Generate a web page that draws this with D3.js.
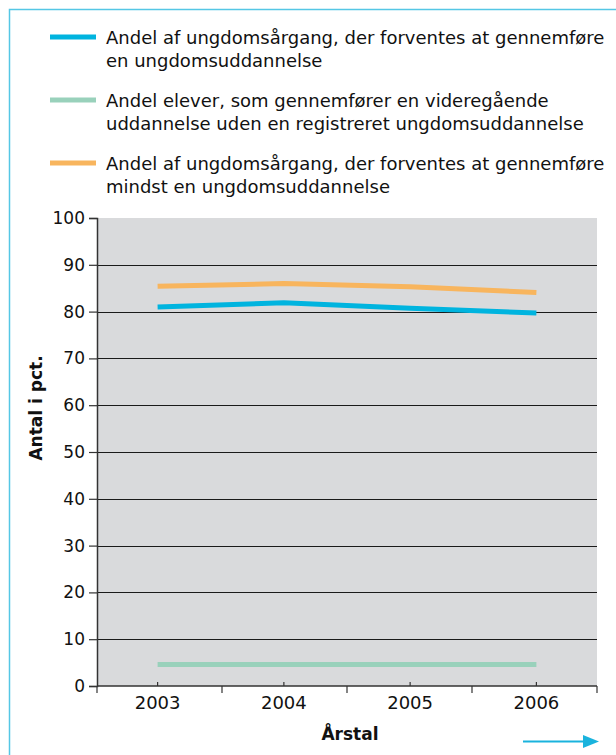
<!DOCTYPE html>
<html lang="da">
<head>
<meta charset="UTF-8">
<script src="https://cdn.jsdelivr.net/npm/d3@7"></script>
<style>
    body { margin: 0; background: white; }
    svg { display: block; font-family: "DejaVu Sans", sans-serif; }
</style>
</head>
<body>
<script>
    // ----- data -----
    const years = ["2003", "2004", "2005", "2006"];
    const blueValues = [81.0, 81.9, 80.7, 79.7];
    const greenValues = [4.6, 4.6, 4.6, 4.6];
    const orangeValues = [85.4, 86.0, 85.3, 84.1];
    const yTicks = [0, 10, 20, 30, 40, 50, 60, 70, 80, 90, 100];
    const legendLabels = [
        ["Andel af ungdomsårgang, der forventes at gennemføre", "en ungdomsuddannelse"],
        ["Andel elever, som gennemfører en videregående", "uddannelse uden en registreret ungdomsuddannelse"],
        ["Andel af ungdomsårgang, der forventes at gennemføre", "mindst en ungdomsuddannelse"]
    ];
    const colors = ["#00b4df", "#99d1bb", "#f8b55e"];

    const W = 616, H = 755;
    const plot = { left: 97, right: 597, top: 218, bottom: 686 };

    const svg = d3.select("body").append("svg")
        .attr("width", W)
        .attr("height", H);

    // frame (top + left light blue border)
    svg.append("path")
        .attr("d", `M9.5,${H} V9.5 H${W}`)
        .attr("fill", "none")
        .attr("stroke", "#55c7e5")
        .attr("stroke-width", 1.5);

    // ----- scales -----
    const xBand = d3.scaleBand().domain(years).range([plot.left, plot.right]);
    const x = d3.scalePoint().domain(years).range([plot.left, plot.right]).padding(0.48);
    const y = d3.scaleLinear().domain([0, 100]).range([plot.bottom, plot.top]);

    // plot background
    svg.append("rect")
        .attr("x", plot.left)
        .attr("y", plot.top)
        .attr("width", plot.right - plot.left)
        .attr("height", plot.bottom - plot.top)
        .attr("fill", "#d9dadc");

    // gridlines
    svg.append("g")
        .selectAll("line")
        .data(yTicks.filter(d => d > 0 && d < 100))
        .join("line")
        .attr("x1", plot.left)
        .attr("x2", plot.right)
        .attr("y1", d => Math.round(y(d)) + 0.5)
        .attr("y2", d => Math.round(y(d)) + 0.5)
        .attr("stroke", "#1a1a1a")
        .attr("stroke-width", 1);

    // y axis
    const yAxis = svg.append("g")
        .attr("transform", `translate(${plot.left},0)`)
        .call(d3.axisLeft(y).tickValues(yTicks).tickSize(8).tickPadding(4));
    yAxis.select(".domain").attr("stroke", "#333").attr("stroke-width", 1.5);
    yAxis.selectAll(".tick line").attr("stroke", "#333").attr("stroke-width", 1.2);
    yAxis.selectAll(".tick text")
        .attr("font-family", "DejaVu Sans, sans-serif")
        .attr("font-size", 17)
        .attr("fill", "#111");

    // x axis
    const xAxis = svg.append("g").attr("transform", `translate(0,${plot.bottom})`);
    xAxis.append("line")
        .attr("x1", plot.left).attr("x2", plot.right)
        .attr("stroke", "#333").attr("stroke-width", 1.5);
    const bounds = years.map(d => xBand(d)).concat([plot.right]);
    xAxis.selectAll(".bound")
        .data(bounds)
        .join("line")
        .attr("class", "bound")
        .attr("x1", d => d).attr("x2", d => d)
        .attr("y1", 0).attr("y2", 7)
        .attr("stroke", "#333").attr("stroke-width", 1.2);
    xAxis.selectAll(".mid")
        .data(years)
        .join("line")
        .attr("class", "mid")
        .attr("x1", d => x(d)).attr("x2", d => x(d))
        .attr("y1", -4).attr("y2", 0)
        .attr("stroke", "#333").attr("stroke-width", 1.2);
    xAxis.selectAll("text")
        .data(years)
        .join("text")
        .attr("x", d => x(d))
        .attr("y", 23)
        .attr("text-anchor", "middle")
        .attr("font-size", 18)
        .attr("fill", "#111")
        .text(d => d);

    // axis titles
    svg.append("text")
        .attr("x", 350)
        .attr("y", 740)
        .attr("text-anchor", "middle")
        .attr("font-size", 17)
        .attr("font-weight", "bold")
        .attr("fill", "#111")
        .text("Årstal");

    svg.append("text")
        .attr("transform", "translate(42,408) rotate(-90)")
        .attr("text-anchor", "middle")
        .attr("font-size", 17)
        .attr("font-weight", "bold")
        .attr("fill", "#111")
        .text("Antal i pct.");

    // lines
    const line = d3.line()
        .x((d, i) => x(years[i]))
        .y(d => y(d));

    [blueValues, greenValues, orangeValues].forEach((vals, i) => {
        svg.append("path")
            .attr("d", line(vals))
            .attr("fill", "none")
            .attr("stroke", colors[i])
            .attr("stroke-width", 5);
    });

    // legend
    const legendY = [37, 100, 163];
    legendLabels.forEach((lines, i) => {
        const g = svg.append("g").attr("transform", `translate(0,${legendY[i]})`);
        g.append("line")
            .attr("x1", 50).attr("x2", 96)
            .attr("stroke", colors[i])
            .attr("stroke-width", 5);
        g.selectAll("text")
            .data(lines)
            .join("text")
            .attr("x", 106)
            .attr("y", (d, j) => 7 + j * 22.5)
            .attr("font-size", 18)
            .attr("fill", "#111")
            .text(d => d);
    });

    // arrow at bottom right
    svg.append("line")
        .attr("x1", 523).attr("x2", 588)
        .attr("y1", 741.5).attr("y2", 741.5)
        .attr("stroke", "#1ab3dd")
        .attr("stroke-width", 2);
    svg.append("path")
        .attr("d", "M583,735 L599,741.5 L583,748 Z")
        .attr("fill", "#1ab3dd");
</script>
</body>
</html>
